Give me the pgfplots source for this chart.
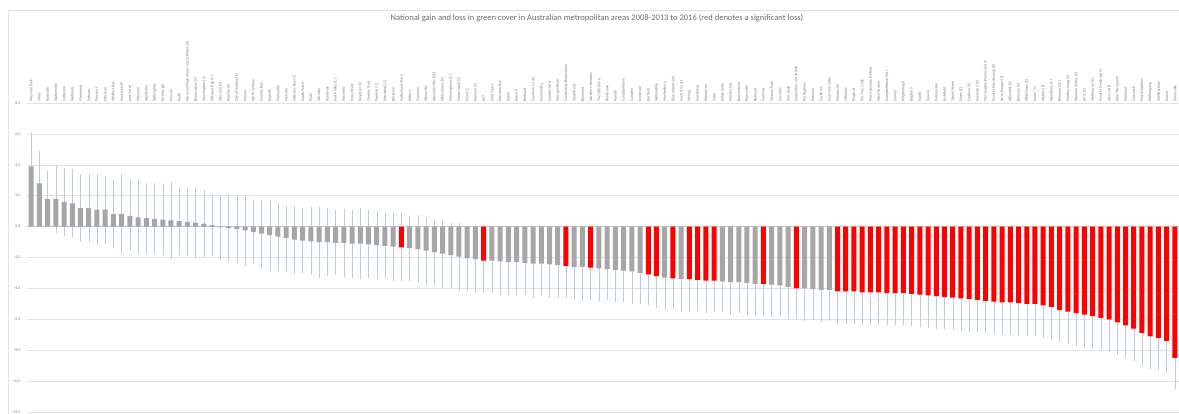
\documentclass[border=0pt]{standalone}
\usepackage{fontspec}
\setmainfont{Carlito}
\usepackage{pgfplots}
\usepackage{pgfplotstable}
\pgfplotsset{compat=1.18}
\definecolor{bargray}{RGB}{166,166,166}
\definecolor{barred}{RGB}{255,0,0}
\definecolor{errcol}{RGB}{188,204,224}
\definecolor{txt}{RGB}{125,125,125}
\definecolor{gridc}{RGB}{226,226,226}

\pgfplotstableread{
x y e
0 3.9 2.2
1 2.8 2.1
2 1.8 1.8
3 1.8 2.2
4 1.6 2.2
5 1.5 2.2
6 1.2 2.2
7 1.2 2.2
8 1.1 2.3
9 1.1 2.2
10 0.8 2.2
11 0.8 2.6
12 0.7 2.3
13 0.6 2.4
14 0.55 2.3
15 0.5 2.3
16 0.45 2.3
17 0.4 2.5
18 0.35 2.2
19 0.3 2.2
20 0.25 2.3
21 0.2 2.2
22 0.1 2.0
23 -0.05 2.1
24 -0.1 2.2
25 -0.15 2.2
26 -0.25 2.3
27 -0.35 2.1
28 -0.45 2.2
29 -0.55 2.3
30 -0.65 2.2
31 -0.75 2.1
32 -0.85 2.2
33 -0.9 2.1
34 -0.95 2.2
35 -1.0 2.3
36 -1.0 2.2
37 -1.05 2.1
38 -1.05 2.2
39 -1.1 2.2
40 -1.1 2.3
41 -1.15 2.2
42 -1.2 2.2
43 -1.25 2.1
44 -1.3 2.2
46 -1.4 2.1
47 -1.45 2.2
48 -1.55 2.2
49 -1.65 2.1
50 -1.75 2.2
51 -1.85 2.1
52 -1.95 2.2
53 -2.05 2.1
54 -2.1 2.2
56 -2.2 2.1
57 -2.25 2.2
58 -2.3 2.1
59 -2.3 2.2
60 -2.35 2.1
61 -2.4 2.2
62 -2.4 2.1
63 -2.45 2.2
64 -2.5 2.1
66 -2.6 2.1
67 -2.6 2.2
69 -2.7 2.1
70 -2.75 2.0
71 -2.8 2.1
72 -2.85 2.0
73 -2.9 2.1
74 -3.0 2.0
77 -3.3 2.1
79 -3.4 2.1
84 -3.55 2.0
85 -3.6 2.1
86 -3.6 2.0
87 -3.65 2.1
88 -3.7 2.0
90 -3.75 2.1
91 -3.8 2.0
92 -3.9 2.1
94 -4.0 2.1
95 -4.05 2.0
96 -4.1 2.1
97 -4.1 2.0
}\graydata

\pgfplotstableread{
x y e
45 -1.35 2.2
55 -2.2 2.1
65 -2.55 2.1
68 -2.65 2.1
75 -3.1 2.0
76 -3.2 2.1
78 -3.35 2.0
80 -3.4 2.1
81 -3.45 2.0
82 -3.5 2.1
83 -3.5 2.0
89 -3.7 2.1
93 -4.0 2.0
98 -4.2 2.1
99 -4.2 2.1
100 -4.2 2.1
101 -4.25 2.1
102 -4.25 2.1
103 -4.25 2.1
104 -4.3 2.1
105 -4.3 2.1
106 -4.3 2.1
107 -4.35 2.1
108 -4.4 2.1
109 -4.45 2.1
110 -4.5 2.1
111 -4.55 2.1
112 -4.6 2.1
113 -4.65 2.1
114 -4.7 2.1
115 -4.75 2.1
116 -4.8 2.1
117 -4.85 2.1
118 -4.9 2.1
119 -4.9 2.1
120 -4.95 2.1
121 -5.0 2.1
122 -5.0 2.1
123 -5.1 2.1
124 -5.2 2.1
125 -5.4 2.1
126 -5.5 2.1
127 -5.6 2.1
128 -5.7 2.1
129 -5.8 2.1
130 -5.9 2.1
131 -6.0 2.1
132 -6.2 2.1
133 -6.4 2.1
134 -6.6 2.1
135 -6.9 2.1
136 -7.1 2.1
137 -7.2 2.1
138 -7.4 2.1
139 -8.5 2.0
}\reddata

\begin{document}
\begin{tikzpicture}
\useasboundingbox (0,0) rectangle (1179pt,-414pt);
\draw[gridc, line width=0.6pt] (8pt,-10pt) rectangle (1200pt,-440pt);
\node[font=\fontsize{8.5}{10}\selectfont, text=txt!85!black] at (597pt,-18pt) {National gain and loss in green cover in Australian metropolitan areas 2008-2013 to 2016 (red denotes a significant loss)};
\begin{axis}[
  at={(27pt,-412pt)}, anchor=south west,
  scale only axis, width=1152pt, height=309pt,
  xmin=-0.5, xmax=139.5, ymin=-12, ymax=8,
  ytick={-12,-10,...,8},
  ymajorgrids, grid style={gridc, line width=0.5pt},
  axis line style={draw=none},
  major tick length=0pt,
  clip=false,
  xtick={0,...,139},
  xticklabel pos=upper,
  xticklabels={Mosman Park,Unley,Burnside,Walkerville,Cottesloe,Nedlands,Claremont,Subiaco,Prospect,Mitcham,Holdfast Bay,Hunters Hill,Lane Cove,Mosman,Woollahra,Willoughby,Ku-ring-gai,Vincent,Perth,Norwood Payneham and St Peters (C),Boroondara (C),Stonnington (C),Onkaparinga (C),Glen Eira (C),Bayside (C),City of Sydney (C),Marion,North Sydney,Canada Bay,Bayside,Fremantle,Melville,Hobsons Bay (C),South Perth,Ryde,Hornsby,Randwick,Port Phillip (C),Waverley,Inner West,Kingston (C),Charles Sturt,Darebin (C),Moreland (C),Brisbane,Sutherland Shire,Hobart,Clarence,Glenorchy,Adelaide Hills (DC),Whitehorse (C),Manningham (C),Maroondah (C),Knox (C),Monash (C),ACT,Gold Coast,Moreton Bay,Logan,Ipswich,Redland,Sunshine Coast,Parramatta,Cumberland,Georges River,Canterbury-Bankstown,Strathfield,Burwood,Northern Beaches,The Hills Shire,Blacktown,Penrith,Campbelltown,Camden,Liverpool,Fairfield,Wollondilly,Hawkesbury,Blue Mountains,Central Coast,Stirling,Joondalup,Wanneroo,Swan,Kalamunda,Mundaring,Bassendean,Bayswater,Belmont,Canning,Victoria Park,Gosnells,Armadale,Serpentine-Jarrahdale,Rockingham,Kwinana,Cockburn,East Fremantle,Mandurah,Salisbury,Playford,Tea Tree Gully,Port Adelaide Enfield,West Torrens,Campbelltown (SA),Gawler,Kingborough,Brighton,Sorell,Darwin,Palmerston,Litchfield,Queanbeyan,Casey (C),Cardinia (S),Frankston (C),Mornington Peninsula (S),Greater Dandenong (C),Yarra Ranges (S),Nillumbik (S),Banyule (C),Whittlesea (C),Hume (C),Melton (S),Wyndham (C),Brimbank (C),Maribyrnong (C),Moonee Valley (C),Yarra (C),Melbourne (C),Greater Geelong (C),Newcastle,Lake Macquarie,Maitland,Cessnock,Port Stephens,Wollongong,Shellharbour,Kiama,Townsville},
  x tick label style={rotate=90, anchor=west, font=\fontsize{4}{5}\selectfont, text=txt, inner sep=1pt},
  y tick label style={font=\fontsize{4}{5}\selectfont, text=txt, xshift=-3pt},
  yticklabel style={/pgf/number format/.cd, fixed, fixed zerofill, precision=1, assume math mode=true},
]
% error bars first, behind the bars
\addplot[draw=none, no markers, forget plot,
  error bars/.cd, y dir=both, y explicit, error mark=none,
  error bar style={draw=errcol, line width=0.4pt}]
  table[x=x, y=y, y error=e] {\graydata};
\addplot[draw=none, no markers, forget plot,
  error bars/.cd, y dir=both, y explicit, error mark=none,
  error bar style={draw=errcol, line width=0.4pt}]
  table[x=x, y=y, y error=e] {\reddata};
\draw[gridc!70!gray, line width=0.5pt] (axis cs:-0.5,0) -- (axis cs:139.5,0);
\addplot[ybar, bar width=5pt, bar shift=0pt, fill=bargray, draw=none]
  table[x=x, y=y] {\graydata};
\addplot[ybar, bar width=5pt, bar shift=0pt, fill=barred, draw=none]
  table[x=x, y=y] {\reddata};
\end{axis}
\end{tikzpicture}
\end{document}
